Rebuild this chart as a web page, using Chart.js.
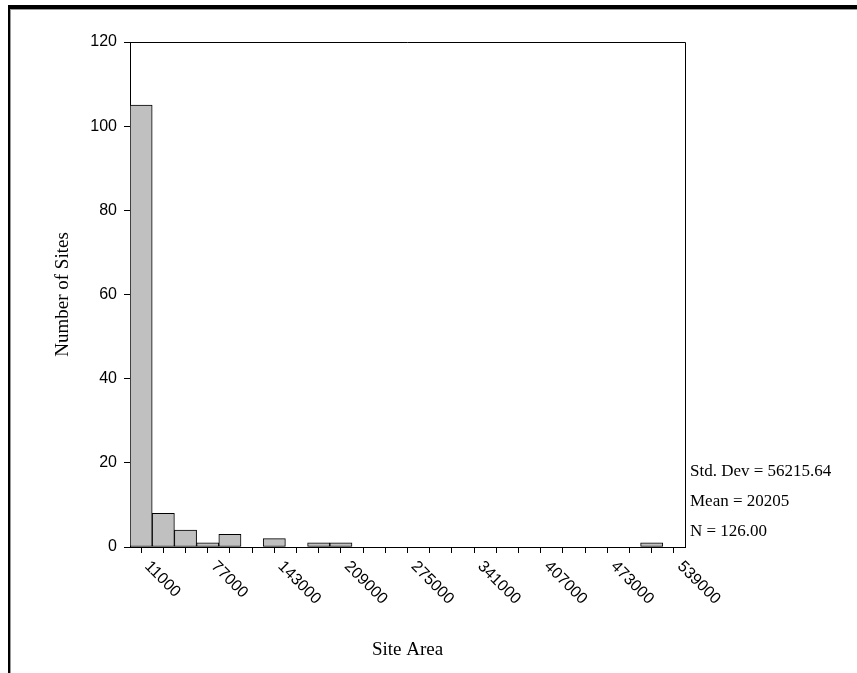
<!DOCTYPE html>
<html>
<head>
<meta charset="utf-8">
<script src="https://cdn.jsdelivr.net/npm/chart.js@4/dist/chart.umd.min.js"></script>
<style>
  html, body { margin: 0; padding: 0; background: #fff; }
  #wrap { width: 857px; height: 673px; }
</style>
</head>
<body>
<div id="wrap"><canvas id="histChart" width="857" height="673"></canvas></div>
<script>
// histogram bins (bin centers) and counts
const binCenters = ['11000', '33000', '55000', '77000', '99000', '121000', '143000', '165000',
  '187000', '209000', '231000', '253000', '275000', '297000', '319000', '341000', '363000',
  '385000', '407000', '429000', '451000', '473000', '495000', '517000', '539000'];
const siteCounts = [105, 8, 4, 1, 3, 0, 2, 0, 1, 1, 0, 0, 0, 0, 0, 0, 0, 0, 0, 0, 0, 0, 0, 1, 0];
const labeledTicks = ['11000', '77000', '143000', '209000', '275000', '341000', '407000', '473000', '539000'];
const statsLines = ['Std. Dev = 56215.64', 'Mean = 20205', 'N = 126.00'];

const SERIF = '"Liberation Serif", "Times New Roman", serif';
const SANS = '"Liberation Sans", Arial, sans-serif';

const framePlugin = {
  id: 'frame',
  beforeDraw(chart) {
    const ctx = chart.ctx;
    ctx.save();
    ctx.fillStyle = '#fff';
    ctx.fillRect(0, 0, chart.width, chart.height);
    ctx.fillStyle = '#000';
    ctx.fillRect(8, 5, chart.width - 8, 4);
    ctx.fillRect(8, 5, 2, chart.height - 5);
    ctx.fillStyle = '#999';
    ctx.fillRect(10, 9, chart.width - 10, 1);
    ctx.fillRect(10, 9, 1, chart.height - 9);
    ctx.restore();
  },
  afterDraw(chart) {
    const ctx = chart.ctx;
    const area = chart.chartArea;
    const xScale = chart.scales.x;
    ctx.save();
    // top and right sides of the plot box
    ctx.strokeStyle = '#000';
    ctx.lineWidth = 1;
    ctx.beginPath();
    ctx.moveTo(area.left, area.top + 0.5);
    ctx.lineTo(area.right + 0.5, area.top + 0.5);
    ctx.lineTo(area.right + 0.5, area.bottom);
    ctx.stroke();

    // rotated x labels, every third bin
    ctx.fillStyle = '#000';
    ctx.font = '16px ' + SANS;
    ctx.textAlign = 'left';
    ctx.textBaseline = 'middle';
    labeledTicks.forEach(lbl => {
      const x = xScale.getPixelForValue(binCenters.indexOf(lbl));
      ctx.save();
      ctx.translate(x + 6, area.bottom + 17);
      ctx.rotate(Math.PI / 4);
      ctx.fillText(lbl, 0, 0);
      ctx.restore();
    });

    // summary statistics
    ctx.font = '17px ' + SERIF;
    statsLines.forEach((line, i) => {
      ctx.fillText(line, area.right + 5, 472 + i * 30);
    });
    ctx.restore();
  }
};

new Chart(document.getElementById('histChart'), {
  type: 'bar',
  data: {
    labels: binCenters,
    datasets: [{
      data: siteCounts,
      backgroundColor: '#c0c0c0',
      borderColor: '#000',
      borderWidth: 1,
      borderSkipped: false,
      categoryPercentage: 1,
      barPercentage: 1
    }]
  },
  options: {
    responsive: false,
    animation: false,
    devicePixelRatio: 1,
    layout: { padding: { top: 42, right: 172, left: 0, bottom: 0 } },
    plugins: { legend: { display: false }, tooltip: { enabled: false } },
    scales: {
      x: {
        offset: true,
        grid: { display: true, drawOnChartArea: false, drawTicks: true, tickLength: 6, color: '#000', offset: false },
        border: { display: true, color: '#000', width: 1 },
        ticks: { display: false },
        title: { display: true, text: 'Site Area', color: '#000', font: { family: SERIF, size: 19 }, padding: { top: 0, bottom: 12 } },
        afterFit(scale) { scale.height = 126; }
      },
      y: {
        min: 0,
        max: 120,
        ticks: { stepSize: 20, color: '#000', font: { family: SANS, size: 16 }, padding: 7 },
        grid: { display: true, drawOnChartArea: false, drawTicks: true, tickLength: 6, color: '#000' },
        border: { display: true, color: '#000', width: 1 },
        title: { display: true, text: 'Number of Sites', color: '#000', font: { family: SERIF, size: 19 }, padding: { top: 52, bottom: 0 } },
        afterFit(scale) { scale.width = 130; }
      }
    }
  },
  plugins: [framePlugin]
});
</script>
</body>
</html>
